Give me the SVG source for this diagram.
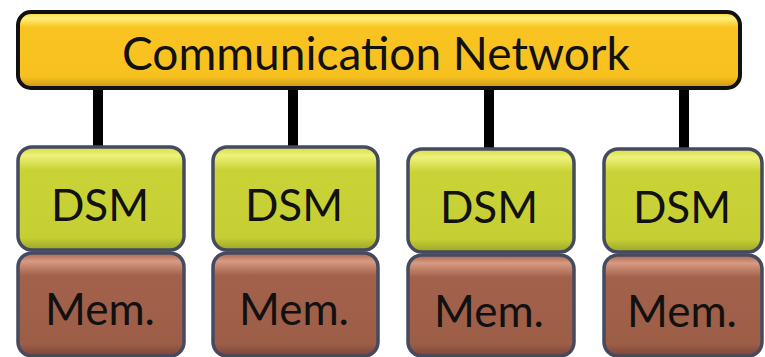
<svg xmlns="http://www.w3.org/2000/svg" width="765" height="357" viewBox="0 0 765 357">
<defs>
<linearGradient id="gNet" x1="0" y1="0" x2="0" y2="1">
<stop offset="0" stop-color="#fbd12e"/>
<stop offset="0.08" stop-color="#fff07a"/>
<stop offset="0.2" stop-color="#f9c422"/>
<stop offset="0.85" stop-color="#f7c11f"/>
<stop offset="1" stop-color="#c9951a"/>
</linearGradient>
<linearGradient id="gDsm" x1="0" y1="0" x2="0" y2="1">
<stop offset="0" stop-color="#d2dc42"/>
<stop offset="0.08" stop-color="#eef27a"/>
<stop offset="0.22" stop-color="#cad336"/>
<stop offset="0.88" stop-color="#c5ce33"/>
<stop offset="1" stop-color="#9ba52a"/>
</linearGradient>
<linearGradient id="gMem" x1="0" y1="0" x2="0" y2="1">
<stop offset="0" stop-color="#a9664f"/>
<stop offset="0.08" stop-color="#d79a82"/>
<stop offset="0.22" stop-color="#a2614a"/>
<stop offset="0.88" stop-color="#9d5e48"/>
<stop offset="1" stop-color="#7a4636"/>
</linearGradient>
</defs>
<style>
.net{fill:url(#gNet);stroke:#111;stroke-width:4}
.dsm{fill:url(#gDsm);stroke:#454a60;stroke-width:3.5}
.mem{fill:url(#gMem);stroke:#454a60;stroke-width:3.5}
.lbl{font-family:Lato,"Open Sans","Liberation Sans",sans-serif;fill:#111;text-anchor:middle}
.big{font-size:46px}
.med{font-size:44px}
.wire{stroke:#000;stroke-width:10}
</style>
<g id="connectors">
<line class="wire" x1="98" y1="88" x2="98" y2="147"/>
<line class="wire" x1="293" y1="88" x2="293" y2="147"/>
<line class="wire" x1="489" y1="88" x2="489" y2="149"/>
<line class="wire" x1="684" y1="88" x2="684" y2="149"/>
</g>
<g id="network">
<rect class="net" x="18" y="12" width="722" height="76" rx="13"/>
<text class="lbl big" x="376" y="70">Communication Network</text>
</g>
<g id="dsm1">
<rect class="dsm" x="18" y="147" width="166" height="103" rx="14"/>
<text class="lbl med" x="100" y="221">DSM</text>
</g>
<g id="mem1">
<rect class="mem" x="18" y="253" width="166" height="103" rx="14"/>
<text class="lbl med" x="100" y="325">Mem.</text>
</g>
<g id="dsm2">
<rect class="dsm" x="213" y="147" width="165" height="103" rx="14"/>
<text class="lbl med" x="294" y="221">DSM</text>
</g>
<g id="mem2">
<rect class="mem" x="213" y="253" width="165" height="103" rx="14"/>
<text class="lbl med" x="294" y="325">Mem.</text>
</g>
<g id="dsm3">
<rect class="dsm" x="408" y="149" width="166" height="103" rx="14"/>
<text class="lbl med" x="489" y="223">DSM</text>
</g>
<g id="mem3">
<rect class="mem" x="408" y="255" width="166" height="101" rx="14"/>
<text class="lbl med" x="489" y="327">Mem.</text>
</g>
<g id="dsm4">
<rect class="dsm" x="604" y="149" width="158" height="103" rx="14"/>
<text class="lbl med" x="682" y="223">DSM</text>
</g>
<g id="mem4">
<rect class="mem" x="604" y="255" width="158" height="101" rx="14"/>
<text class="lbl med" x="682" y="327">Mem.</text>
</g>
</svg>
